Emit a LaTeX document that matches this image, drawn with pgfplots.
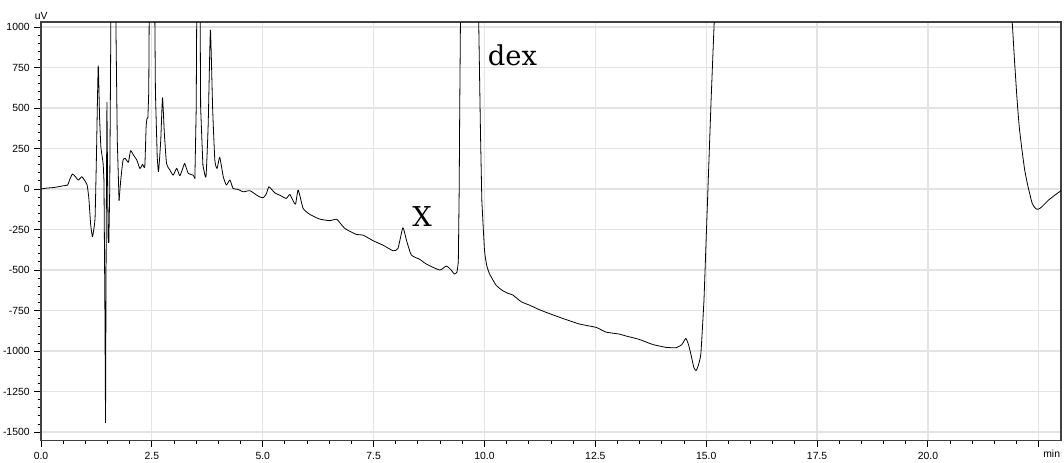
\documentclass[border=0pt]{standalone}
\usepackage{fontspec}
\setmainfont{Liberation Sans}
\newfontfamily\labelfont{DejaVu Serif}
\usepackage{pgfplots}
\pgfplotsset{compat=1.18}
\begin{document}
\begin{tikzpicture}
\useasboundingbox (-30.75pt,-16.125pt) rectangle (767.25pt,330.375pt);
\begin{axis}[
  at={(0pt,0pt)}, anchor=south west,
  scale only axis, width=765pt, height=313.875pt,
  xmin=0, xmax=23, ymin=-1552, ymax=1031,
  xtick={0,2.5,...,22.5},
  xticklabels={0.0,2.5,5.0,7.5,10.0,12.5,15.0,17.5,20.0,},
  ytick={-1500,-1250,...,1000},
  yticklabels={-1500,-1250,-1000,-750,-500,-250,0,250,500,750,1000},
  minor x tick num=4, minor y tick num=4,
  xtick pos=bottom, ytick pos=left,
  tick align=outside,
  major tick length=5pt, minor tick length=2.6pt,
  tick style={black, line width=0.7pt},
  ticklabel style={font=\fontsize{7.8}{9}\selectfont},
  xmajorgrids, ymajorgrids,
  major grid style={black!11, line width=0.9pt},
  axis line style={black!75, line width=0.9pt},
  clip=true,
  trace/.style={black, line width=0.6pt, mark=none, line join=round, line cap=round},
  sm/.style={trace, smooth, tension=0.3},
]
% smooth segment
\addplot[sm] coordinates {
(0.00,0) (0.10,5) (0.30,10) (0.50,20) (0.60,25) (0.65,60) (0.71,93) (0.78,75)
(0.84,55) (0.92,76) (0.98,55) (1.04,25) (1.08,-60) (1.12,-220) (1.16,-294)
(1.19,-250) (1.22,-171) (1.25,200) (1.29,761) (1.32,450) (1.35,261) (1.40,160) (1.42,50)
};
\addplot[trace] coordinates {
(1.42,50) (1.44,-700) (1.455,-1442) (1.47,-300) (1.48,200) (1.487,535) (1.50,100)
(1.515,-329) (1.53,-329) (1.55,0) (1.57,800) (1.60,2500) (1.63,4000) (1.66,2500)
(1.69,1000) (1.72,300) (1.76,-70)
};
\addplot[sm] coordinates {
(1.76,-70) (1.80,60) (1.85,179) (1.90,189) (1.97,165)
(2.02,237) (2.08,212) (2.16,179) (2.23,127) (2.29,152) (2.34,138) (2.37,380)
(2.39,436) (2.41,440)
};
\addplot[trace] coordinates {
(2.41,440) (2.43,600) (2.46,2000) (2.50,3000) (2.54,2000) (2.58,600) (2.62,200)
};
\addplot[sm] coordinates {
(2.62,200) (2.65,107) (2.70,300) (2.74,564) (2.78,350) (2.83,158) (2.90,120)
(2.98,86) (3.06,128) (3.13,82) (3.20,130) (3.24,158) (3.32,97) (3.43,86) (3.47,66)
};
\addplot[trace] coordinates {
(3.47,66) (3.50,500) (3.55,3000) (3.60,500) (3.65,150)
};
\addplot[sm] coordinates {
(3.65,150) (3.72,76) (3.77,400) (3.82,981)
(3.87,500) (3.92,179) (3.97,127) (4.03,196) (4.11,76) (4.18,25) (4.26,56) (4.33,4)
(4.44,-2) (4.56,-17) (4.71,-10) (4.85,-35) (4.92,-47) (5.01,-54) (5.08,-30)
(5.14,14) (5.27,-23) (5.40,-40) (5.53,-58) (5.61,-33) (5.68,-70) (5.74,-93)
(5.80,-6) (5.91,-119) (6.06,-156) (6.28,-185) (6.51,-195) (6.67,-187) (6.85,-243)
(7.11,-280) (7.26,-284) (7.49,-319) (7.71,-346) (7.94,-381) (8.05,-366) (8.16,-239)
(8.24,-315) (8.35,-407) (8.54,-434) (8.69,-463) (8.99,-500) (9.14,-475) (9.25,-500)
(9.32,-525) (9.38,-512) (9.41,-450)
};
\addplot[trace] coordinates {
(9.41,-450) (9.43,0) (9.44,426) (9.46,1100) (9.65,20000)
(9.85,1500) (9.87,1031) (9.91,344) (9.94,-68)
};
\addplot[sm] coordinates {
(9.94,-68) (10.00,-377) (10.05,-470) (10.11,-521)
(10.26,-593) (10.40,-625) (10.53,-644) (10.64,-654) (10.83,-696) (11.01,-716)
(11.20,-740) (11.39,-761) (11.76,-798) (12.14,-833) (12.52,-854) (12.74,-883)
(13.04,-895) (13.19,-907) (13.49,-928) (13.79,-959) (14.09,-977) (14.32,-979)
(14.45,-960) (14.54,-922) (14.60,-960) (14.65,-1014) (14.72,-1100) (14.77,-1121)
(14.82,-1090) (14.88,-1014) (14.95,-685)
};
\addplot[trace] coordinates {
(14.95,-685) (15.03,-68) (15.11,549) (15.18,1031)
(15.30,3000) (16.00,20000) (21.00,20000) (21.80,3000) (21.90,1031) (21.95,800)
};
\addplot[sm] coordinates {
(21.95,800) (22.01,549) (22.06,380) (22.12,241) (22.18,120) (22.24,35) (22.30,-35) (22.35,-88)
(22.41,-115) (22.46,-125) (22.52,-120) (22.57,-109) (22.72,-68) (22.85,-40) (23.00,-10)
};
\node[anchor=base west, inner sep=0pt, font=\labelfont\fontsize{20.5}{24}\selectfont] at (axis cs:10.07,765) {dex};
\node[anchor=base west, inner sep=0pt, font=\labelfont\fontsize{20.5}{24}\selectfont] at (axis cs:8.37,-233) {X};
\end{axis}
\node[anchor=base, inner sep=0pt, font=\fontsize{7.8}{9}\selectfont] at (0.2pt,315.4pt) {uV};
\node[anchor=base east, inner sep=0pt, font=\fontsize{7.8}{9}\selectfont] at (764.5pt,-12.7pt) {min};
\end{tikzpicture}
\end{document}
